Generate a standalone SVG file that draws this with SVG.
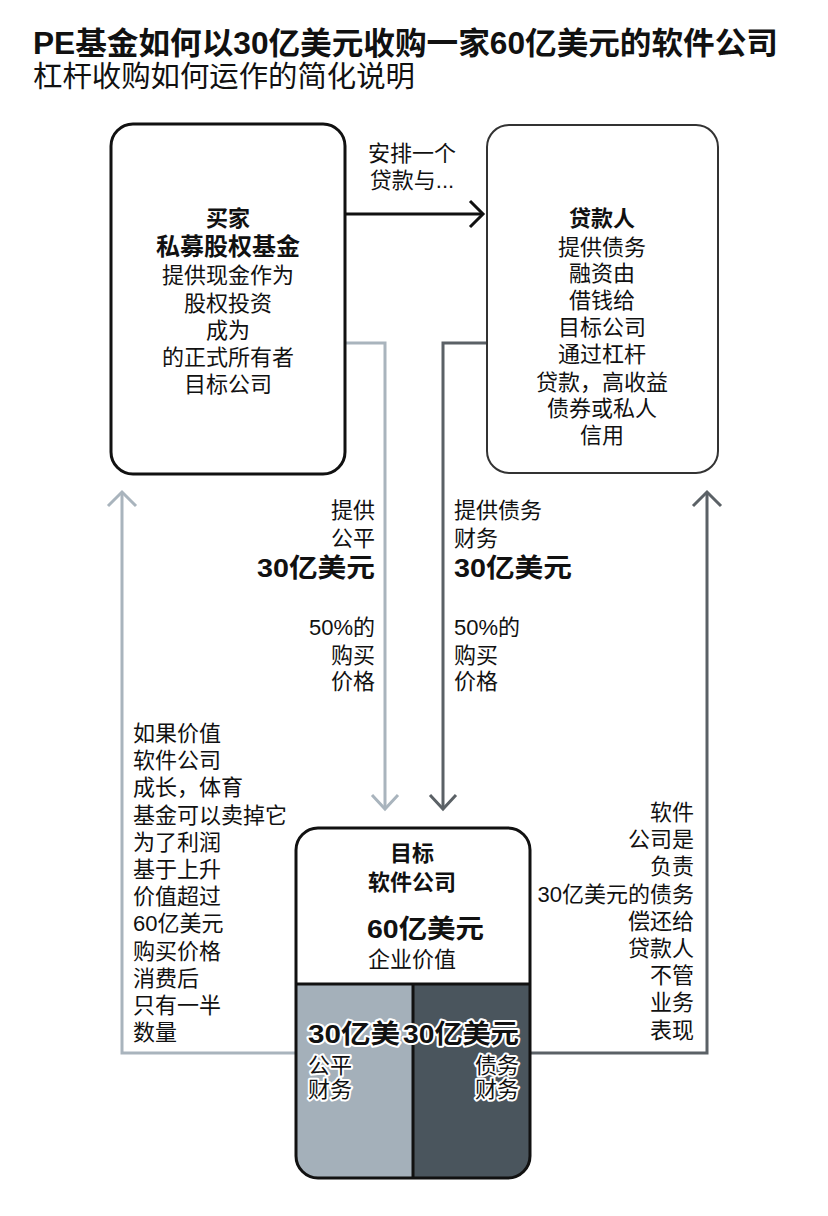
<svg xmlns="http://www.w3.org/2000/svg" width="828" height="1216" viewBox="0 0 828 1216">
<style>
text{font-family:"Liberation Sans","Noto Sans CJK SC",sans-serif;fill:#111;font-size:22px}
.b{font-weight:bold}
.c{text-anchor:middle}
.e{text-anchor:end}
.amt{font-weight:bold;font-size:26px}
.halo{stroke:#fff;stroke-width:4px;stroke-linejoin:round;paint-order:stroke}
.box{fill:#fff;stroke:#111;stroke-width:3}
.light{fill:none;stroke:#a9b4bd;stroke-width:3}
.dark{fill:none;stroke:#5b6166;stroke-width:3}
.blk{fill:none;stroke:#111;stroke-width:3}
</style>
<defs>
<clipPath id="tclip"><rect x="296" y="828" width="234" height="350" rx="22"/></clipPath>
</defs>
<rect width="828" height="1216" fill="#fff"/>
<g id="title">
<text x="33" y="54" class="b" style="font-size:31px" textLength="745" lengthAdjust="spacingAndGlyphs">PE基金如何以30亿美元收购一家60亿美元的软件公司</text>
<text x="33" y="87" style="font-size:29px" textLength="382" lengthAdjust="spacingAndGlyphs">杠杆收购如何运作的简化说明</text>
</g>
<g id="connectors">
<line class="blk" x1="345" y1="214" x2="482" y2="214"/>
<polyline class="blk" points="470,201 483,214 470,227"/>
<polyline class="light" points="345,343 385,343 385,808"/>
<polyline class="light" points="372,795 385,809 398,795"/>
<polyline class="dark" points="487,343 443,343 443,808"/>
<polyline class="dark" points="430,795 443,809 456,795"/>
<polyline class="light" points="296,1053 122,1053 122,494"/>
<polyline class="light" points="108,506 122,492 136,506"/>
<polyline class="dark" points="530,1053 707,1053 707,494"/>
<polyline class="dark" points="693,506 707,492 721,506"/>
</g>
<g id="labels">
<text x="412" y="161" class="c">安排一个</text>
<text x="412" y="188" class="c">贷款与...</text>
<text x="375" y="518" class="e">提供</text>
<text x="375" y="546" class="e">公平</text>
<text x="375" y="577" class="e amt" textLength="118" lengthAdjust="spacingAndGlyphs">30亿美元</text>
<text x="375" y="635" class="e">50%的</text>
<text x="375" y="663" class="e">购买</text>
<text x="375" y="689" class="e">价格</text>
<text x="454" y="518">提供债务</text>
<text x="454" y="546">财务</text>
<text x="454" y="577" class="amt" textLength="118" lengthAdjust="spacingAndGlyphs">30亿美元</text>
<text x="454" y="635">50%的</text>
<text x="454" y="663">购买</text>
<text x="454" y="689">价格</text>
<text x="133" y="741">如果价值</text>
<text x="133" y="768">软件公司</text>
<text x="133" y="795">成长，体育</text>
<text x="133" y="823">基金可以卖掉它</text>
<text x="133" y="850">为了利润</text>
<text x="133" y="877">基于上升</text>
<text x="133" y="904">价值超过</text>
<text x="133" y="931">60亿美元</text>
<text x="133" y="959">购买价格</text>
<text x="133" y="986">消费后</text>
<text x="133" y="1013">只有一半</text>
<text x="133" y="1040">数量</text>
<text x="694" y="820" class="e">软件</text>
<text x="694" y="847" class="e">公司是</text>
<text x="694" y="874" class="e">负责</text>
<text x="694" y="902" class="e">30亿美元的债务</text>
<text x="694" y="929" class="e">偿还给</text>
<text x="694" y="956" class="e">贷款人</text>
<text x="694" y="983" class="e">不管</text>
<text x="694" y="1010" class="e">业务</text>
<text x="694" y="1038" class="e">表现</text>
</g>
<g id="buyer">
<rect class="box" x="111" y="124" width="234" height="350" rx="22"/>
<text x="228" y="226" class="c b">买家</text>
<text x="228" y="255" class="c b" style="font-size:24px">私募股权基金</text>
<text x="228" y="283" class="c">提供现金作为</text>
<text x="228" y="311" class="c">股权投资</text>
<text x="228" y="338" class="c">成为</text>
<text x="228" y="365" class="c">的正式所有者</text>
<text x="228" y="392" class="c">目标公司</text>
</g>
<g id="lender">
<rect x="487" y="125" width="231" height="348" rx="22" fill="#fff" stroke="#333" stroke-width="2"/>
<text x="602" y="226" class="c b">贷款人</text>
<text x="602" y="255" class="c">提供债务</text>
<text x="602" y="281" class="c">融资由</text>
<text x="602" y="308" class="c">借钱给</text>
<text x="602" y="335" class="c">目标公司</text>
<text x="602" y="362" class="c">通过杠杆</text>
<text x="602" y="390" class="c">贷款，高收益</text>
<text x="602" y="416" class="c">债券或私人</text>
<text x="602" y="443" class="c">信用</text>
</g>
<g id="target">
<rect x="296" y="828" width="234" height="350" rx="22" fill="#fff"/>
<g clip-path="url(#tclip)">
<rect x="296" y="984" width="117" height="194" fill="#a4b0ba"/>
<rect x="413" y="984" width="117" height="194" fill="#4a555d"/>
</g>
<line x1="296" y1="984" x2="530" y2="984" stroke="#111" stroke-width="3"/>
<line x1="413" y1="984" x2="413" y2="1178" stroke="#111" stroke-width="3"/>
<rect x="296" y="828" width="234" height="350" rx="22" fill="none" stroke="#111" stroke-width="3"/>
<text x="412" y="861" class="c b">目标</text>
<text x="412" y="890" class="c b">软件公司</text>
<text x="367" y="938" class="amt" textLength="117" lengthAdjust="spacingAndGlyphs">60亿美元</text>
<text x="368" y="967">企业价值</text>
<text x="308" y="1043" class="amt halo" textLength="92" lengthAdjust="spacingAndGlyphs">30亿美</text>
<text x="519" y="1043" class="e amt halo" textLength="116" lengthAdjust="spacingAndGlyphs">30亿美元</text>
<text x="308" y="1073" class="halo">公平</text>
<text x="308" y="1097" class="halo">财务</text>
<text x="519" y="1073" class="e halo">债务</text>
<text x="519" y="1097" class="e halo">财务</text>
</g>
</svg>
